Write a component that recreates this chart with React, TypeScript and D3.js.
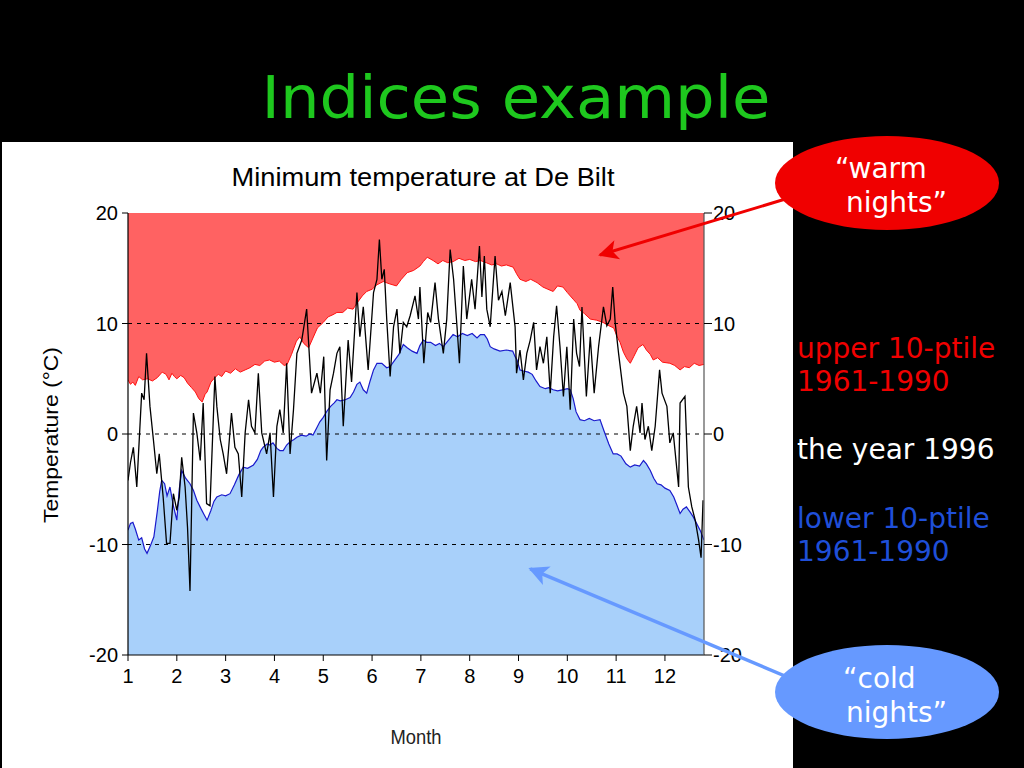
import * as d3 from "d3";

// upper 10-percentile 1961-1990, [month, °C]
const upperPct: [number, number][] = [
  [1.0, 4.9], [1.05, 4.5], [1.1, 4.7], [1.15, 4.4], [1.22, 5.2], [1.3, 4.9], [1.4, 5.0],
  [1.5, 4.8], [1.6, 5.1], [1.7, 5.6], [1.78, 5.4], [1.84, 4.9], [1.9, 5.5], [1.95, 5.2],
  [2.0, 5.0], [2.08, 5.3], [2.15, 5.1], [2.22, 4.6], [2.3, 4.2], [2.38, 3.8], [2.45, 3.2],
  [2.52, 2.9], [2.58, 3.6], [2.62, 3.8], [2.7, 4.7], [2.78, 5.1], [2.85, 5.4], [2.92, 5.2],
  [3.0, 5.7], [3.1, 5.5], [3.2, 5.9], [3.3, 5.6], [3.4, 5.8], [3.5, 6.0], [3.6, 6.3],
  [3.7, 6.2], [3.8, 6.6], [3.9, 6.7], [4.0, 6.5], [4.1, 6.6], [4.2, 6.2], [4.26, 6.3],
  [4.35, 7.2], [4.45, 8.4], [4.52, 8.8], [4.6, 8.2], [4.7, 7.8], [4.78, 8.6], [4.88, 9.6],
  [5.0, 10.1], [5.1, 10.6], [5.2, 10.8], [5.28, 11.0], [5.4, 11.0], [5.5, 11.4], [5.61, 11.3],
  [5.7, 11.9], [5.8, 12.5], [5.89, 12.9], [6.0, 13.1], [6.1, 13.5], [6.23, 13.8], [6.35, 13.6],
  [6.5, 13.4], [6.6, 14.0], [6.72, 14.6], [6.85, 14.8], [6.98, 15.2], [7.05, 15.6], [7.13, 16.0],
  [7.25, 15.7], [7.35, 15.4], [7.45, 15.7], [7.55, 15.5], [7.66, 15.6], [7.78, 15.9], [7.9, 15.7],
  [8.0, 15.8], [8.12, 15.6], [8.22, 15.7], [8.34, 15.5], [8.45, 15.3], [8.55, 15.4], [8.65, 15.2],
  [8.75, 15.3], [8.89, 15.1], [8.96, 14.5], [9.03, 14.0], [9.15, 13.8], [9.25, 14.0], [9.38, 13.7],
  [9.5, 13.3], [9.6, 13.1], [9.71, 12.9], [9.8, 13.4], [9.91, 13.3], [10.0, 12.8], [10.12, 12.2],
  [10.2, 11.8], [10.26, 11.2], [10.35, 10.9], [10.47, 10.4], [10.6, 10.3], [10.73, 10.1],
  [10.85, 9.8], [10.95, 9.6], [11.02, 8.8], [11.08, 8.3], [11.15, 7.4], [11.22, 6.8], [11.29, 6.4],
  [11.36, 7.0], [11.45, 7.8], [11.55, 8.1], [11.62, 7.6], [11.7, 7.2], [11.76, 6.7], [11.85, 6.9],
  [11.95, 6.5], [12.1, 6.4], [12.2, 6.2], [12.31, 5.8], [12.4, 6.1], [12.5, 6.0], [12.6, 6.4],
  [12.7, 6.2], [12.8, 6.3],
];

// lower 10-percentile 1961-1990, [month, °C]
const lowerPct: [number, number][] = [
  [1.0, -8.7], [1.05, -8.1], [1.1, -8.0], [1.15, -8.6], [1.22, -9.6], [1.28, -9.4], [1.34, -10.4],
  [1.39, -10.8], [1.46, -10.1], [1.53, -9.3], [1.6, -7.0], [1.65, -5.2], [1.69, -4.2], [1.75, -4.5],
  [1.8, -5.6], [1.86, -4.8], [1.93, -6.5], [2.0, -7.8], [2.05, -5.0], [2.1, -3.3], [2.18, -4.0],
  [2.27, -4.5], [2.34, -5.1], [2.41, -6.0], [2.5, -6.8], [2.56, -7.3], [2.62, -7.8], [2.7, -6.9],
  [2.76, -6.1], [2.82, -5.7], [2.92, -5.5], [3.0, -5.6], [3.09, -5.4], [3.18, -4.6], [3.27, -3.7],
  [3.36, -3.0], [3.45, -3.1], [3.57, -2.8], [3.65, -2.3], [3.72, -1.5], [3.77, -1.2], [3.85, -0.9],
  [3.91, -1.0], [3.97, -0.8], [4.05, -1.3], [4.11, -1.5], [4.18, -1.5], [4.25, -1.0], [4.32, -0.7],
  [4.4, -0.5], [4.46, -0.3], [4.55, -0.1], [4.65, -0.2], [4.72, 0.0], [4.79, -0.1], [4.86, 0.5],
  [4.93, 1.1], [5.0, 1.5], [5.08, 2.1], [5.15, 2.5], [5.22, 2.8], [5.28, 3.1], [5.35, 3.0],
  [5.45, 3.1], [5.55, 3.3], [5.62, 3.8], [5.69, 4.5], [5.75, 4.7], [5.82, 4.0], [5.89, 3.7],
  [5.96, 4.8], [6.03, 5.8], [6.1, 6.4], [6.2, 6.4], [6.3, 6.0], [6.37, 6.1], [6.45, 6.6],
  [6.55, 7.2], [6.64, 8.1], [6.72, 7.8], [6.82, 7.5], [6.92, 7.3], [6.98, 8.0], [7.05, 8.5],
  [7.12, 8.3], [7.2, 8.3], [7.3, 8.0], [7.38, 8.2], [7.46, 7.9], [7.55, 8.4], [7.66, 9.0],
  [7.75, 8.8], [7.85, 9.1], [7.95, 8.9], [8.05, 9.1], [8.15, 8.7], [8.22, 9.0], [8.3, 9.0],
  [8.36, 8.6], [8.42, 7.9], [8.5, 7.7], [8.62, 7.5], [8.75, 7.6], [8.88, 7.5], [8.93, 7.0],
  [8.97, 6.7], [9.03, 5.8], [9.1, 5.7], [9.2, 5.6], [9.28, 5.4], [9.36, 4.8], [9.44, 4.3],
  [9.55, 4.1], [9.62, 4.2], [9.71, 4.0], [9.8, 3.9], [9.9, 4.0], [10.0, 4.1], [10.06, 4.0],
  [10.12, 3.2], [10.18, 2.0], [10.26, 1.3], [10.35, 1.2], [10.45, 1.4], [10.55, 1.2], [10.67, 1.3],
  [10.75, 0.3], [10.85, -0.9], [10.94, -1.8], [11.02, -1.8], [11.1, -2.0], [11.2, -2.7],
  [11.29, -3.0], [11.38, -2.8], [11.48, -2.9], [11.56, -2.4], [11.62, -2.7], [11.7, -3.3],
  [11.77, -4.0], [11.84, -4.5], [11.92, -4.6], [12.0, -4.9], [12.1, -5.1], [12.18, -5.7],
  [12.25, -6.5], [12.31, -7.2], [12.37, -6.8], [12.44, -6.6], [12.52, -7.1], [12.58, -7.5],
  [12.66, -8.2], [12.72, -8.7], [12.8, -9.6],
];

// daily minimum temperature 1996 (turning points)
const year1996: [number, number][] = [
  [1.0, -4.2], [1.05, -2.6], [1.11, -1.2], [1.18, -4.8], [1.28, 3.7], [1.33, 3.1], [1.38, 7.3],
  [1.45, 2.5], [1.52, -0.5], [1.59, -3.6], [1.64, -1.8], [1.72, -5.7], [1.79, -9.9], [1.86, -9.9],
  [1.93, -5.4], [2.0, -6.9], [2.05, -5.7], [2.1, -2.1], [2.17, -4.8], [2.22, -8.5], [2.27, -14.2],
  [2.34, 1.9], [2.41, 0.1], [2.48, -2.4], [2.54, 2.8], [2.61, -6.3], [2.68, -6.5], [2.78, 5.2],
  [2.82, 2.5], [2.89, -0.5], [2.95, -1.8], [3.02, -3.6], [3.12, 1.9], [3.19, -1.2], [3.26, -1.8],
  [3.33, -5.7], [3.4, 0.1], [3.47, 3.1], [3.53, 0.7], [3.6, 0.1], [3.67, 5.5], [3.74, 0.1],
  [3.84, -1.8], [3.91, 0.1], [3.98, -5.7], [4.05, 0.7], [4.11, 2.2], [4.18, 0.1], [4.25, 6.4],
  [4.32, -1.8], [4.39, 2.2], [4.46, 7.3], [4.56, 8.5], [4.66, 11.3], [4.76, 3.7], [4.87, 5.5],
  [4.94, 3.7], [5.01, 7.0], [5.07, -2.4], [5.14, 4.0], [5.21, 5.5], [5.28, 7.3], [5.34, 7.9],
  [5.41, 0.7], [5.51, 8.5], [5.58, 4.7], [5.69, 12.8], [5.75, 8.8], [5.82, 11.5], [5.92, 5.8],
  [6.03, 12.8], [6.1, 14.0], [6.15, 17.6], [6.2, 14.0], [6.25, 14.9], [6.3, 10.4], [6.37, 5.2],
  [6.44, 9.7], [6.51, 11.3], [6.57, 7.3], [6.64, 10.1], [6.71, 9.7], [6.78, 10.7], [6.88, 12.5],
  [6.95, 10.4], [6.98, 13.3], [7.06, 6.4], [7.14, 11.0], [7.2, 10.1], [7.29, 13.7], [7.36, 10.4],
  [7.46, 7.3], [7.53, 10.4], [7.6, 16.7], [7.67, 14.0], [7.74, 9.7], [7.79, 6.4], [7.87, 15.2],
  [7.94, 10.4], [8.04, 14.0], [8.11, 11.3], [8.2, 17.0], [8.25, 12.4], [8.3, 16.1], [8.35, 11.3],
  [8.42, 9.7], [8.52, 16.1], [8.59, 12.1], [8.66, 12.9], [8.73, 10.7], [8.83, 13.7], [8.93, 9.7],
  [8.96, 5.5], [9.03, 7.6], [9.1, 4.9], [9.17, 7.3], [9.24, 8.5], [9.31, 10.1], [9.37, 5.8],
  [9.44, 7.9], [9.51, 6.4], [9.58, 8.8], [9.65, 3.7], [9.72, 8.8], [9.78, 11.6], [9.85, 7.9],
  [9.92, 3.4], [9.99, 7.9], [10.06, 2.2], [10.13, 10.4], [10.19, 7.3], [10.25, 6.1], [10.3, 11.5],
  [10.39, 3.4], [10.47, 8.8], [10.55, 3.7], [10.64, 7.9], [10.74, 11.5], [10.81, 9.8], [10.88, 10.4],
  [10.93, 13.3], [10.98, 10.1], [11.05, 7.3], [11.15, 3.7], [11.22, 2.5], [11.29, -1.5], [11.35, 0.7],
  [11.42, 2.5], [11.49, 0.1], [11.53, 2.8], [11.59, -0.5], [11.66, 0.7], [11.73, -1.5], [11.8, 0.7],
  [11.89, 5.8], [11.94, 3.7], [12.04, 2.5], [12.1, -0.8], [12.17, 0.1], [12.28, -4.8], [12.31, 2.8],
  [12.41, 3.4], [12.48, -4.8], [12.55, -6.6], [12.62, -7.8], [12.69, -9.6], [12.74, -11.2],
  [12.78, -6.0],
];

const monthTicks = [1, 2, 3, 4, 5, 6, 7, 8, 9, 10, 11, 12];
const tempTicks = [-20, -10, 0, 10, 20];
const gridTicks = [-10, 0, 10];

const sideLabels = [
  { text: "upper 10-ptile", color: "#f00000", y: 358 },
  { text: "1961-1990", color: "#f00000", y: 391 },
  { text: "the year 1996", color: "#ffffff", y: 459 },
  { text: "lower 10-ptile", color: "#1f4fd8", y: 528 },
  { text: "1961-1990", color: "#1f4fd8", y: 561 },
];

const left = 128;
const right = 704;
const top = 213;
const bottom = 655;

const App = () => {
  const x = d3.scaleLinear().domain([1, 12.8]).range([left, right]);
  const y = d3.scaleLinear().domain([-20, 20]).range([bottom, top]);

  const redArea = d3
    .area<[number, number]>()
    .x((d) => x(d[0]))
    .y0(y(20))
    .y1((d) => y(d[1]))(upperPct);
  const blueArea = d3
    .area<[number, number]>()
    .x((d) => x(d[0]))
    .y0(y(-20))
    .y1((d) => y(d[1]))(lowerPct);
  const line = d3
    .line<[number, number]>()
    .x((d) => x(d[0]))
    .y((d) => y(d[1]));

  const arial = "'Liberation Sans', Arial, sans-serif";
  const verdana = "'DejaVu Sans', Verdana, sans-serif";

  // arrow tips in data space
  const redTip = [x(10.67), y(16.2)];
  const blueTip = [x(9.24), y(-12.2)];

  return (
    <svg
      width={1024}
      height={768}
      style={{ position: "absolute", left: 0, top: 0, background: "#000" }}
    >
      <defs>
        <clipPath id="plot">
          <rect x={left} y={top} width={right - left} height={bottom - top} />
        </clipPath>
        <marker id="headRed" viewBox="0 0 10 10" refX="9" refY="5" markerWidth="22" markerHeight="20"
          markerUnits="userSpaceOnUse" orient="auto">
          <path d="M0,0 L10,5 L0,10 L2.5,5 z" fill="#f00000" />
        </marker>
        <marker id="headBlue" viewBox="0 0 10 10" refX="9" refY="5" markerWidth="22" markerHeight="20"
          markerUnits="userSpaceOnUse" orient="auto">
          <path d="M0,0 L10,5 L0,10 L2.5,5 z" fill="#6699ff" />
        </marker>
      </defs>

      <text x={516} y={118} fill="#1ec81e" fontFamily={verdana} fontSize={58}
        textAnchor="middle" textLength={509} lengthAdjust="spacingAndGlyphs">
        Indices example
      </text>

      <rect x={2} y={142} width={791} height={626} fill="#fff" />

      <text x={423} y={186} fontFamily={arial} fontSize={25} textAnchor="middle"
        textLength={383} lengthAdjust="spacingAndGlyphs">
        Minimum temperature at De Bilt
      </text>

      <g clipPath="url(#plot)">
        <path d={redArea ?? ""} fill="#ff6262" />
        <path d={blueArea ?? ""} fill="#a8d0fa" />
        {gridTicks.map((t) => (
          <line key={t} x1={left} x2={right} y1={y(t)} y2={y(t)} stroke="#000"
            strokeWidth={1} strokeDasharray="4,5" />
        ))}
        <path d={line(upperPct) ?? ""} fill="none" stroke="#ff1010" strokeWidth={1} />
        <path d={line(lowerPct) ?? ""} fill="none" stroke="#1a1acc" strokeWidth={1.2} />
        <path d={line(year1996) ?? ""} fill="none" stroke="#000" strokeWidth={1.3} />
      </g>

      {/* axes */}
      <line x1={left} x2={left} y1={top} y2={bottom} stroke="#000" strokeWidth={1.2} />
      <line x1={left} x2={right} y1={bottom} y2={bottom} stroke="#000" strokeWidth={1.2} />
      <line x1={right} x2={right} y1={top} y2={bottom} stroke="#555" strokeWidth={1.2} />
      {tempTicks.map((t) => (
        <g key={t}>
          <line x1={left - 6} x2={left} y1={y(t)} y2={y(t)} stroke="#000" />
          <text x={118} y={y(t) + 7} fontFamily={arial} fontSize={20} textAnchor="end">
            {t}
          </text>
          <line x1={right} x2={right + 8} y1={y(t)} y2={y(t)} stroke="#000" />
          <text x={713} y={y(t) + 7} fontFamily={arial} fontSize={20}>
            {t}
          </text>
        </g>
      ))}
      {monthTicks.map((m) => (
        <g key={m}>
          <line x1={x(m)} x2={x(m)} y1={bottom} y2={bottom + 6} stroke="#000" />
          <text x={x(m)} y={683} fontFamily={arial} fontSize={20} textAnchor="middle">
            {m}
          </text>
        </g>
      ))}
      <text transform="translate(58,435) rotate(-90)" fontFamily={arial} fontSize={21}
        textAnchor="middle" textLength={176} lengthAdjust="spacingAndGlyphs">
        Temperature (°C)
      </text>
      <text x={416} y={744} fontFamily={"'Liberation Sans Narrow', " + arial} fontSize={21}
        textAnchor="middle" fill="#222" textLength={51} lengthAdjust="spacingAndGlyphs">
        Month
      </text>

      {/* annotations */}
      <line x1={792} y1={197} x2={redTip[0]} y2={redTip[1]} stroke="#f00000" strokeWidth={3}
        markerEnd="url(#headRed)" />
      <line x1={792} y1={679} x2={blueTip[0]} y2={blueTip[1]} stroke="#6699ff" strokeWidth={3.5}
        markerEnd="url(#headBlue)" />

      <ellipse cx={887} cy={183} rx={112} ry={47} fill="#f00000" />
      <text x={835} y={178} fill="#fff" fontFamily={verdana} fontSize={28}>“warm</text>
      <text x={846} y={212} fill="#fff" fontFamily={verdana} fontSize={28}>nights”</text>

      <ellipse cx={887} cy={692} rx={112} ry={47} fill="#6699ff" />
      <text x={843} y={688} fill="#fff" fontFamily={verdana} fontSize={28}>“cold</text>
      <text x={846} y={722} fill="#fff" fontFamily={verdana} fontSize={28}>nights”</text>

      {sideLabels.map((s, i) => (
        <text key={i} x={797} y={s.y} fill={s.color} fontFamily={verdana} fontSize={28}>
          {s.text}
        </text>
      ))}
    </svg>
  );
};

export default App;
